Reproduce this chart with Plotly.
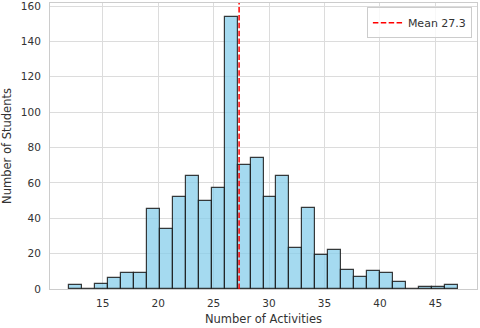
import plotly.graph_objects as go

# histogram counts (30 equal bins between 12 and 47 activities)
BIN_START = 12
BIN_END = 47
COUNTS = [2, 0, 3, 6, 9, 9, 45, 34, 52, 64, 50, 57, 154, 70, 74,
          52, 64, 23, 46, 19, 22, 11, 7, 10, 9, 4, 0, 1, 1, 2]
MEAN = 27.3
X_TICKS = [15, 20, 25, 30, 35, 40, 45]
Y_TICKS = [0, 20, 40, 60, 80, 100, 120, 140, 160]

width = (BIN_END - BIN_START) / len(COUNTS)
centers = [BIN_START + width * (i + 0.5) for i in range(len(COUNTS))]

fig = go.Figure()
fig.add_trace(go.Bar(
    x=centers, y=COUNTS, width=width,
    marker=dict(color="rgba(135,206,235,0.75)",
                line=dict(color="rgba(25,25,25,0.85)", width=1.2)),
    showlegend=False, hoverinfo="x+y",
))
fig.add_trace(go.Scatter(
    x=[MEAN, MEAN], y=[0, 200], mode="lines",
    line=dict(color="#ff0000", width=1.5, dash="5.5px,2.4px"),
    name=f"Mean {MEAN}",
))

axis_common = dict(
    showgrid=True, gridcolor="#dcdcdc", gridwidth=1,
    showline=True, linecolor="#cccccc", linewidth=1, mirror=True,
    zeroline=False, ticks="", automargin=False, ticklabeloverflow="allow",
    tickfont=dict(size=10.5, color="#333333"),
    title_font=dict(size=11.5, color="#333333"),
)

fig.update_layout(
    width=480, height=328,
    margin=dict(l=50, r=3, t=3, b=39, autoexpand=False),
    paper_bgcolor="white", plot_bgcolor="white",
    font=dict(family="DejaVu Sans", color="#333333"),
    bargap=0,
    xaxis=dict(range=[BIN_START - 0.05 * (BIN_END - BIN_START),
                      BIN_END + 0.05 * (BIN_END - BIN_START)],
               tickvals=X_TICKS, ticklabelstandoff=4,
               title=dict(text="Number of Activities", standoff=7),
               **axis_common),
    yaxis=dict(range=[0, max(COUNTS) * 1.05], tickvals=Y_TICKS,
               ticklabelstandoff=6,
               title=dict(text="Number of Students", standoff=8),
               **axis_common),
    legend=dict(x=0.988, y=0.985, xanchor="right", yanchor="top",
                bgcolor="rgba(255,255,255,0.8)", bordercolor="#cccccc",
                borderwidth=1, font=dict(size=11, color="#333333"),
                itemwidth=30),
)

fig.write_html("out.html", config={"displayModeBar": False},
               post_script="document.body.style.margin='0';")
